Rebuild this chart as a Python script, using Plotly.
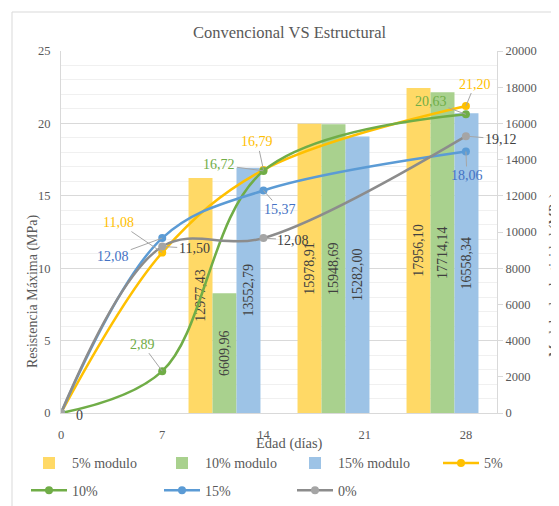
import plotly.graph_objects as go

# ---- data ----
days = [0, 7, 14, 28]
res_5 = [0, 11.08, 16.79, 21.20]
res_10 = [0, 2.89, 16.72, 20.63]
res_15 = [0, 12.08, 15.37, 18.06]
res_0 = [0, 11.50, 12.08, 19.12]

mod_cats = ["0", "7", "14", "28"]
mod_5 = [0, 12977.43, 15978.91, 17956.10]
mod_10 = [0, 6609.96, 15948.69, 17714.14]
mod_15 = [0, 13552.79, 15282.00, 16558.34]

x_ticks = [0, 7, 14, 21, 28]

FONT = "Liberation Serif"
GRAY = "#595959"


def fmt(v):
    return f"{v:.2f}".replace(".", ",")


fig = go.Figure()

bar_specs = [("5% modulo", mod_5, "#FFD966"),
             ("10% modulo", mod_10, "#A9D18E"),
             ("15% modulo", mod_15, "#9DC3E6")]
for name, vals, col in bar_specs:
    fig.add_trace(go.Bar(
        x=mod_cats, y=vals, name=name, marker=dict(color=col, line=dict(width=0)),
        text=[fmt(v) if v else "" for v in vals], textposition="inside",
        insidetextanchor="middle", textangle=-90,
        textfont=dict(family=FONT, size=14, color="#404040"),
        xaxis="x", yaxis="y", legend="legend"))

line_specs = [("5%", res_5, "#FFC000", "#FFC000", "legend3"),
              ("10%", res_10, "#70AD47", "#70AD47", "legend2"),
              ("15%", res_15, "#5B9BD5", "#5B9BD5", "legend2"),
              ("0%", res_0, "#8C8C8C", "#A5A5A5", "legend2")]
for name, vals, lcol, mcol, leg in line_specs:
    fig.add_trace(go.Scatter(
        x=days, y=vals, name=name, mode="lines+markers",
        line=dict(color=lcol, width=2.5, shape="spline"),
        marker=dict(color=mcol, size=8),
        xaxis="x2", yaxis="y2", legend=leg))

# data labels (series, index, text colour, pixel offsets)
label_specs = [
    (res_5, 1, "#FFC000", -44, -30),
    (res_15, 1, "#4472C4", -49, 18),
    (res_0, 1, "#404040", 32, 2),
    (res_10, 1, "#70AD47", -20, -27),
    (res_5, 2, "#FFC000", -6, -28),
    (res_10, 2, "#70AD47", -44, -6),
    (res_15, 2, "#4472C4", 17, 19),
    (res_0, 2, "#404040", 30, 2),
    (res_10, 3, "#70AD47", -35, -13),
    (res_5, 3, "#FFC000", 9, -22),
    (res_0, 3, "#404040", 35, 3),
    (res_15, 3, "#4472C4", 1, 24),
]
annotations = []
for series, i, col, ax, ay in label_specs:
    annotations.append(dict(
        x=days[i], y=series[i], xref="x2", yref="y2", text=fmt(series[i]),
        showarrow=True, arrowhead=0, arrowwidth=1, arrowcolor="#A6A6A6",
        ax=ax, ay=ay, font=dict(family=FONT, size=14, color=col)))
annotations.append(dict(
    x=days[0], y=res_0[0], xref="x2", yref="y2", text="0", showarrow=False,
    xshift=18, yshift=-2, font=dict(family=FONT, size=14, color="#404040")))

# titles
tcommon = dict(xref="paper", yref="paper", showarrow=False, xanchor="center", yanchor="middle")
annotations += [
    dict(text="Convencional VS Estructural", x=0.525, y=1.05,
         font=dict(family=FONT, size=16.5, color=GRAY), **tcommon),
    dict(text="Resistencia Máxima (MPa)", x=-0.0642, y=0.337, textangle=-90,
         font=dict(family=FONT, size=14, color=GRAY), **tcommon),
    dict(text="Modulo de elasticidad (MPa)", x=1.133, y=0.381, textangle=-90,
         font=dict(family=FONT, size=14, color=GRAY), **tcommon),
    dict(text="Edad (días)", x=0.523, y=-0.083,
         font=dict(family=FONT, size=14.5, color=GRAY), **tcommon),
]

tickfont = dict(family=FONT, size=12.5, color=GRAY)
legfont = dict(family=FONT, size=14, color=GRAY)
legcommon = dict(orientation="h", xanchor="left", yanchor="top", font=legfont,
                 itemwidth=36, entrywidth=82, entrywidthmode="pixels",
                 traceorder="normal", bgcolor="rgba(0,0,0,0)")

# page body has an 8px margin: figure is 551x498 so that it ends at the window edge
fig.update_layout(
    width=551, height=498,
    margin=dict(l=53, r=62, t=43, b=93, autoexpand=False),
    paper_bgcolor="white", plot_bgcolor="white",
    barmode="group", bargap=0.34, bargroupgap=0,
    showlegend=True,
    legend=dict(x=(26 - 61) / 436, y=-0.095, **legcommon),
    legend2=dict(x=(26 - 61) / 436, y=-0.17, **legcommon),
    legend3=dict(x=(438 - 61) / 436, y=-0.095, **legcommon),
    xaxis=dict(type="category", range=[-0.5, 3.5], showticklabels=False,
               showgrid=False, zeroline=False, showline=False),
    yaxis=dict(side="right", range=[0, 20000], dtick=2000, tickformat="d",
               showgrid=False, zeroline=False, showline=True, linecolor="#D9D9D9",
               ticks="outside", ticklen=5, tickcolor="#D9D9D9", tickfont=tickfont),
    xaxis2=dict(overlaying="x", anchor="y2", side="bottom", range=[0, 30.15],
                tickmode="array", tickvals=x_ticks, showgrid=False, zeroline=False,
                showline=True, linecolor="#D9D9D9", ticks="", ticklabelstandoff=10,
                tickfont=tickfont),
    yaxis2=dict(overlaying="y", anchor="x2", side="left", range=[0, 25], dtick=5,
                showgrid=True, gridcolor="#D9D9D9", zeroline=False,
                minor=dict(dtick=1, showgrid=True, gridcolor="#F0F0F0"),
                showline=True, linecolor="#D9D9D9", ticks="", ticklabelstandoff=7,
                tickfont=tickfont),
    annotations=annotations,
    shapes=[dict(type="rect", xref="paper", yref="paper",
                 x0=(12 - 61) / 436, x1=(575 - 61) / 436,
                 y0=(413 - 520) / 362, y1=(413 - 12) / 362,
                 line=dict(color="#D9D9D9", width=1), fillcolor="rgba(0,0,0,0)",
                 layer="below")],
)

fig.write_html("out.html")
